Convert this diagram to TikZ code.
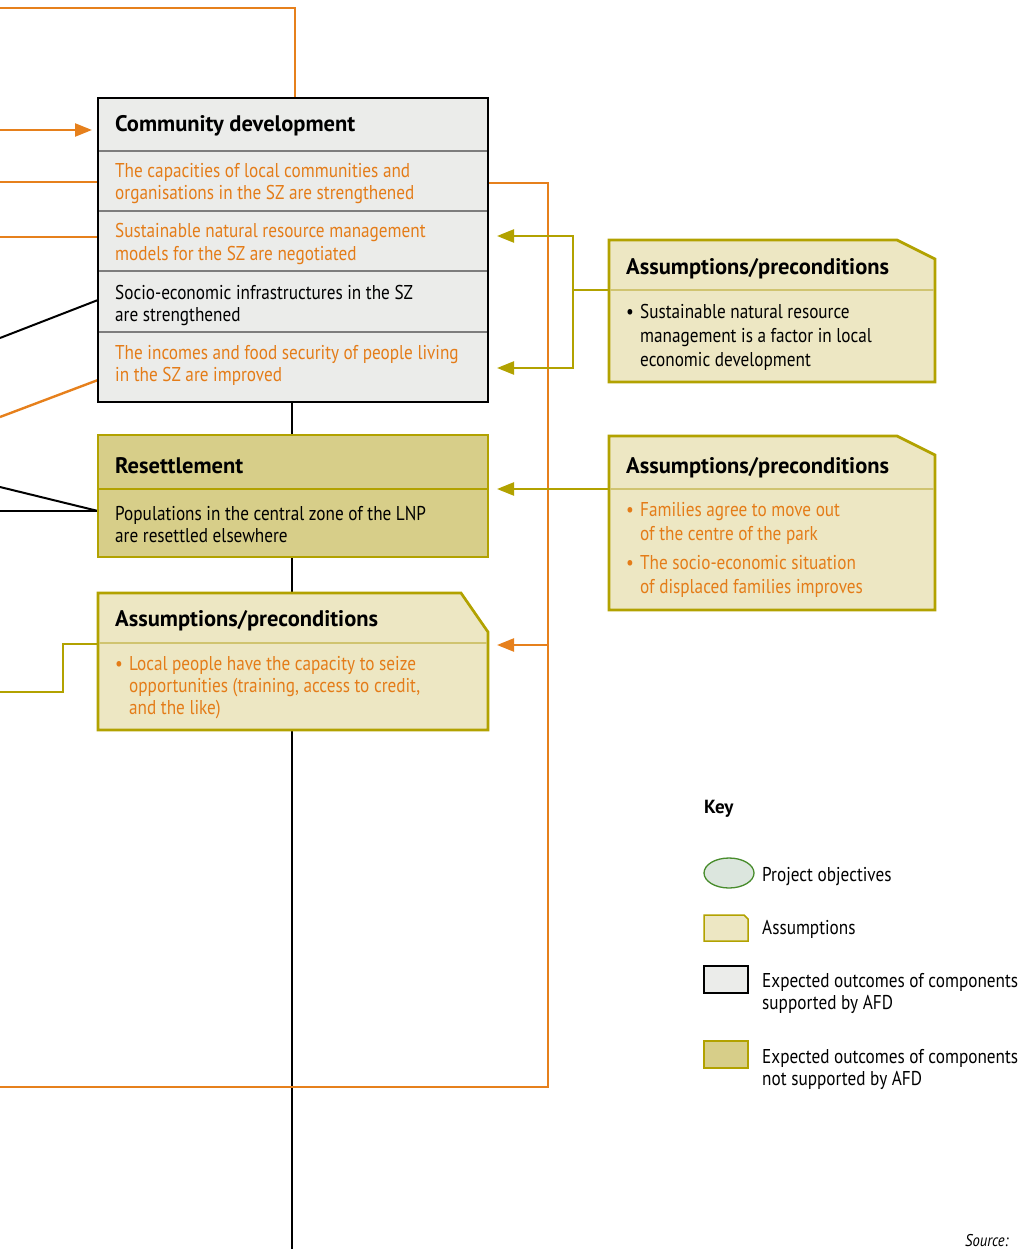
\documentclass[tikz,border=0pt]{standalone}
\usepackage{fontspec}
\setmainfont{PT Sans}
\newfontfamily\bodyfam{PT Sans}[FakeStretch=0.86]
\usetikzlibrary{arrows.meta}
\definecolor{orangeline}{RGB}{230,128,28}
\definecolor{orangetext}{RGB}{228,124,24}
\definecolor{olive}{RGB}{178,162,0}
\definecolor{olivesep}{RGB}{208,196,112}
\definecolor{assumfill}{RGB}{237,231,195}
\definecolor{resetfill}{RGB}{215,206,137}
\definecolor{cdfill}{RGB}{235,236,234}
\definecolor{cdsep}{RGB}{125,125,125}
\definecolor{objfill}{RGB}{220,230,222}
\definecolor{objline}{RGB}{72,140,44}

\begin{document}
\begin{tikzpicture}[x=1pt,y=-1pt,
  % multi-line text nodes are anchored at the baseline of their last line
  body/.style={font=\bodyfam\fontsize{20}{22}\selectfont, align=left, anchor=base west, inner sep=0pt},
  bodywide/.style={body, font=\bodyfam\fontsize{20}{24}\selectfont},
  titletext/.style={font=\fontsize{22.5}{24}\selectfont\bfseries, anchor=base west, inner sep=0pt},
  oline/.style={draw=orangeline, line width=2.4pt},
  gline/.style={draw=olive, line width=2.4pt},
  kline/.style={draw=black, line width=2pt},
  tip/.style={-{Triangle[length=17pt,width=13pt]}},
  bothtips/.style={{Triangle[length=17pt,width=13pt]}-{Triangle[length=17pt,width=13pt]}},
  outbox/.style={line width=2.7pt},
  sepline/.style={line width=1.4pt},
]
\useasboundingbox (0,0) rectangle (1026,1249);

% ---------- connection points ----------
\coordinate (topL)   at (0,8);
\coordinate (topR)   at (295,8);
\coordinate (cdTop)  at (295,98);
\coordinate (inA)    at (0,130);
\coordinate (inAend) at (92,130);
\coordinate (inB)    at (0,182);
\coordinate (inBend) at (98,182);
\coordinate (inC)    at (0,237);
\coordinate (inCend) at (98,237);
\coordinate (inD)    at (0,338);
\coordinate (inDend) at (98,300);
\coordinate (inE)    at (0,417);
\coordinate (inEend) at (98,380);
\coordinate (inF)    at (0,487);
\coordinate (inG)    at (0,511);
\coordinate (reIn)   at (98,511);
\coordinate (cdOut)  at (488,183);
\coordinate (oc1)    at (548,183);
\coordinate (oc2)    at (548,1087);
\coordinate (oc3)    at (0,1087);
\coordinate (oc4)    at (548,645);
\coordinate (blIn)   at (497,645);
\coordinate (spineT) at (292,402);
\coordinate (spineB) at (292,1249);
\coordinate (g1a)    at (497,236);
\coordinate (g1b)    at (573,236);
\coordinate (g1c)    at (573,368);
\coordinate (g1d)    at (497,368);
\coordinate (g1m)    at (573,290);
\coordinate (r1In)   at (609,290);
\coordinate (r2In)   at (609,489);
\coordinate (reOut)  at (497,489);
\coordinate (blOut)  at (98,644);
\coordinate (bl1)    at (63,644);
\coordinate (bl2)    at (63,692);
\coordinate (bl3)    at (0,692);

% ---------- connectors ----------
\draw[kline] (spineT) -- (spineB);
\draw[kline] (inD) -- (inDend);
\draw[kline] (inF) -- (reIn);
\draw[kline] (inG) -- (reIn);

\draw[oline] (topL) -- (topR) -- (cdTop);
\draw[oline, tip] (inA) -- (inAend);
\draw[oline] (inB) -- (inBend);
\draw[oline] (inC) -- (inCend);
\draw[oline] (inE) -- (inEend);
\draw[oline] (cdOut) -- (oc1) -- (oc2) -- (oc3);
\draw[oline, tip] (oc4) -- (blIn);

\draw[gline, bothtips] (g1a) -- (g1b) -- (g1c) -- (g1d);
\draw[gline] (r1In) -- (g1m);
\draw[gline, tip] (r2In) -- (reOut);
\draw[gline] (blOut) -- (bl1) -- (bl2) -- (bl3);

% ---------- Community development ----------
\fill[cdfill] (98,98) rectangle (488,402);
\foreach \y in {151,211,271,332}
  \draw[cdsep, sepline] (98,\y) -- (488,\y);
\draw[black, outbox] (98,98) rectangle (488,402);
\node[titletext] (cdtitle) at (115,132) {Community development};
\node[body, text=orangetext] (cd1) at (115,200) {The capacities of local communities and\\organisations in the SZ are strengthened};
\node[body, text=orangetext] (cd2) at (115,260) {Sustainable natural resource management\\models for the SZ are negotiated};
\node[body] (cd3) at (115,321) {Socio-economic infrastructures in the SZ\\are strengthened};
\node[body, text=orangetext] (cd4) at (115,381) {The incomes and food security of people living\\in the SZ are improved};

% ---------- Resettlement ----------
\fill[resetfill] (98,435) rectangle (488,557);
\draw[olive, sepline] (98,489) -- (488,489);
\draw[olive, outbox] (98,435) rectangle (488,557);
\node[titletext] (retitle) at (115,473) {Resettlement};
\node[body] (re1) at (115,542) {Populations in the central zone of the LNP\\are resettled elsewhere};

% ---------- Assumptions (lower left) ----------
\filldraw[fill=assumfill, draw=olive, outbox] (98,593) -- (461,593) -- (488,632) -- (488,730) -- (98,730) -- cycle;
\draw[olivesep, sepline] (99,643) -- (487,643);
\node[titletext] (bltitle) at (115,626) {Assumptions/preconditions};
\node[body, text=orangetext] (bl) at (115,714) {\makebox[14pt][l]{•}Local people have the capacity to seize\\\hspace*{14pt}opportunities (training, access to credit,\\\hspace*{14pt}and the like)};

% ---------- Assumptions (right, upper) ----------
\filldraw[fill=assumfill, draw=olive, outbox] (609,240) -- (897,240) -- (935,259) -- (935,382) -- (609,382) -- cycle;
\draw[olivesep, sepline] (610,290) -- (934,290);
\node[titletext] (r1title) at (626,274) {Assumptions/preconditions};
\node[bodywide] (r1) at (626,366) {\makebox[14pt][l]{•}Sustainable natural resource\\\hspace*{14pt}management is a factor in local\\\hspace*{14pt}economic development};

% ---------- Assumptions (right, lower) ----------
\filldraw[fill=assumfill, draw=olive, outbox] (609,436) -- (897,436) -- (935,455) -- (935,610) -- (609,610) -- cycle;
\draw[olivesep, sepline] (610,489) -- (934,489);
\node[titletext] (r2title) at (626,473) {Assumptions/preconditions};
\node[bodywide, text=orangetext] (r2) at (626,593) {\makebox[14pt][l]{•}Families agree to move out\\\hspace*{14pt}of the centre of the park\\[5pt]\makebox[14pt][l]{•}The socio-economic situation\\\hspace*{14pt}of displaced families improves};

% ---------- Key ----------
\node[titletext, font=\fontsize{19}{22}\selectfont\bfseries] (keytitle) at (704,813) {Key};
\filldraw[fill=objfill, draw=objline, line width=1.3pt] (729,873) ellipse [x radius=25, y radius=15];
\node[body] (k1) at (762,881) {Project objectives};
\filldraw[fill=assumfill, draw=olive, line width=1.5pt] (704,915) -- (744,915) -- (748,919) -- (748,941) -- (704,941) -- cycle;
\node[body] (k2) at (762,934) {Assumptions};
\filldraw[fill=cdfill, draw=black, line width=1.5pt] (704,966) rectangle (748,993);
\node[body] (k3) at (762,1009) {Expected outcomes of components\\supported by AFD};
\filldraw[fill=resetfill, draw=olive, line width=1.5pt] (704,1041) rectangle (748,1068);
\node[body] (k4) at (762,1085) {Expected outcomes of components\\not supported by AFD};

\node[body, font=\bodyfam\fontsize{17}{20}\selectfont\itshape] (src) at (965,1246) {Source:};
\end{tikzpicture}
\end{document}
